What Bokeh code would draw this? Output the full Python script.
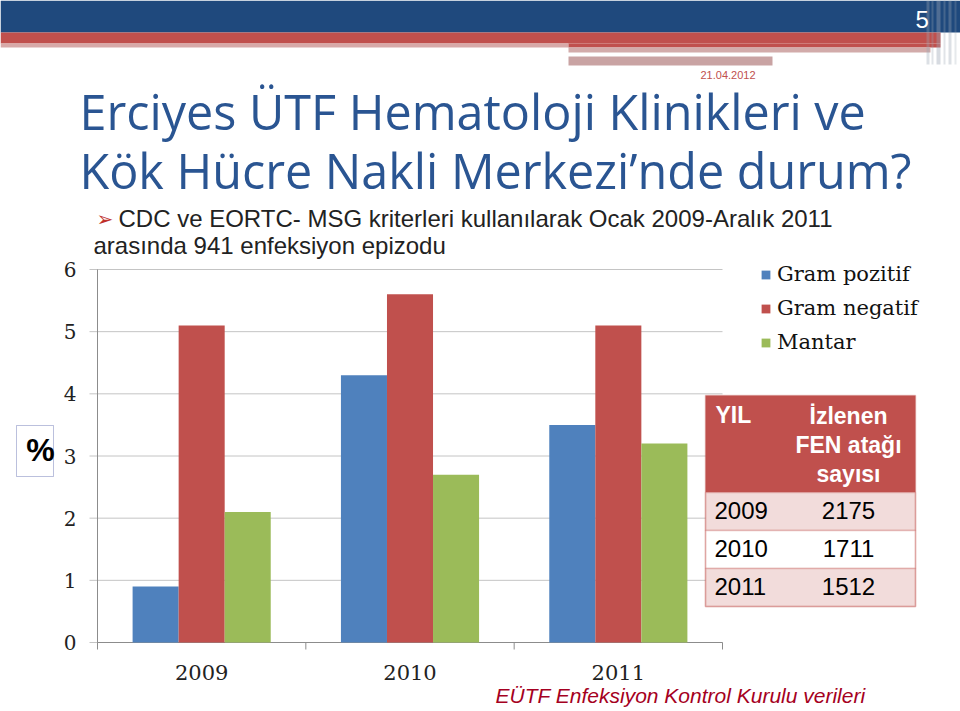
from bokeh.plotting import figure
from bokeh.models import (Range1d, Label, BoxAnnotation, Legend, LegendItem, ColumnDataSource)
from bokeh.core.properties import value
from bokeh.embed import file_html
from bokeh.resources import INLINE

# ---------------- data ----------------
years = ["2009", "2010", "2011"]
series_names = ["Gram pozitif", "Gram negatif", "Mantar"]
gram_pozitif = [0.9, 4.3, 3.5]
gram_negatif = [5.1, 5.6, 5.1]
mantar = [2.1, 2.7, 3.2]
y_ticks = [0, 1, 2, 3, 4, 5, 6]

table_header = ["YIL", "İzlenen", "FEN atağı", "sayısı"]
table_years = ["2009", "2010", "2011"]
table_counts = ["2175", "1711", "1512"]

title_lines = ["Erciyes ÜTF Hematoloji Klinikleri ve", "Kök Hücre Nakli Merkezi’nde durum?"]
bullet_lines = ["CDC ve EORTC- MSG kriterleri kullanılarak Ocak 2009-Aralık 2011",
                "arasında 941 enfeksiyon epizodu"]
footer = "EÜTF  Enfeksiyon Kontrol Kurulu verileri"
date_text = "21.04.2012"
page_no = "5"

# ---------------- layout ----------------
W, H = 960, 711
CL, CR, CT, CB = 97, 722, 269, 642   # chart plot area in page pixels
n_cat = len(years)
y_max = 6

colors = ["#4F81BD", "#C0504D", "#9BBB59"]
grid_c = "#C4C4C4"
axis_c = "#8C8C8C"

# page coordinates: x = pixels from left, y = pixels from top
p = figure(width=W, height=H, output_backend="svg", toolbar_location=None,
           x_range=Range1d(0, W), y_range=Range1d(H, 0),
           min_border=0, min_border_left=0, min_border_right=0,
           min_border_top=0, min_border_bottom=0)
p.outline_line_color = None
p.axis.visible = False
p.grid.visible = False
p.background_fill_color = "white"
p.border_fill_color = "white"

# chart scales mapped onto the chart area of the page
xu = (CR - CL) / n_cat          # pixels per category
yu = (CB - CT) / y_max          # pixels per percent
p.extra_x_ranges = {"cx": Range1d(-CL / xu, n_cat + (W - CR) / xu)}
p.extra_y_ranges = {"cy": Range1d(-(H - CB) / yu, y_max + CT / yu)}

# ---------------- grid & axes ----------------
p.segment(x0=[-8 / xu] * len(y_ticks), x1=[n_cat] * len(y_ticks), y0=y_ticks, y1=y_ticks,
          x_range_name="cx", y_range_name="cy", line_color=grid_c, line_width=1)
p.segment(x0=[0], x1=[0], y0=[0], y1=[y_max], x_range_name="cx", y_range_name="cy",
          line_color=axis_c, line_width=1)
p.segment(x0=[0], x1=[n_cat], y0=[0], y1=[0], x_range_name="cx", y_range_name="cy",
          line_color=axis_c, line_width=1)
bounds = list(range(n_cat + 1))
p.segment(x0=bounds, x1=bounds, y0=[0] * len(bounds), y1=[-7 / yu] * len(bounds),
          x_range_name="cx", y_range_name="cy", line_color=axis_c, line_width=1)
p.text(x=[-21 / xu] * len(y_ticks), y=y_ticks, text=[str(t) for t in y_ticks],
       x_range_name="cx", y_range_name="cy", text_font=value("DejaVu Serif"),
       text_font_size="20px", text_color="#222222", text_align="right",
       text_baseline="middle")
p.text(x=[i + 0.5 for i in range(n_cat)], y=[-30 / yu] * n_cat, text=years,
       x_range_name="cx", y_range_name="cy", text_font=value("DejaVu Serif"),
       text_font_size="21px", text_color="#222222", text_align="center",
       text_baseline="middle")

# ---------------- bars ----------------
bw = 0.221
offsets = [-bw, 0.0, bw]
renderers = []
for vals, col, off in zip([gram_pozitif, gram_negatif, mantar], colors, offsets):
    src = ColumnDataSource(dict(x=[i + 0.5 + off for i in range(n_cat)], top=vals))
    r = p.vbar(x="x", top="top", width=bw, bottom=0, source=src,
               x_range_name="cx", y_range_name="cy",
               fill_color=col, line_color=None)
    renderers.append(r)

# ---------------- legend ----------------
legend = Legend(items=[LegendItem(label=n, renderers=[r]) for n, r in zip(series_names, renderers)],
                location=(760, H - 354), border_line_color=None,
                background_fill_alpha=0, padding=0, margin=0,
                glyph_width=11, glyph_height=11, label_standoff=6, spacing=10,
                label_text_font="DejaVu Serif", label_text_font_size="21px",
                label_text_color="#111111", label_height=24)
p.add_layout(legend, "center")

# ---------------- helpers for page decorations ----------------
def box(l, t, r, b, color, alpha=1.0, line_color=None, line_width=1):
    p.add_layout(BoxAnnotation(left=l, right=r, top=t, bottom=b,
                               fill_color=color, fill_alpha=alpha,
                               line_color=line_color, line_width=line_width,
                               level="overlay"))

def text(cx, base, s, size, color="#000000", font="Liberation Sans", align="left",
         style="normal"):
    # base = wanted baseline (page px from top); Label's alphabetic anchor sits ~0.42em higher
    p.add_layout(Label(x=cx, y=base - 0.42 * size, text=s,
                       text_font=font, text_font_size=f"{size}px", text_color=color,
                       text_align=align, text_baseline="alphabetic", text_font_style=style,
                       level="overlay"))

# header bands
box(0, 0, 960, 32, "#1F497D")
box(0, 32, 940, 43, "#C0504D")
box(0, 43, 568, 47, "#D7A9A8")
box(568, 43, 940, 47, "#C0504D")
box(568, 47, 930, 52, "#D2ABAA")
box(568, 56, 772, 65, "#C9A3A3")
for xl, xr, a in [(926, 929, 0.35), (931, 933, 0.3), (936, 940, 0.4), (943, 945, 0.3),
                  (948, 951, 0.35), (954, 956, 0.25)]:
    box(xl, 0, xr, 64, "#9AA6B4", alpha=a)
text(915, 29, page_no, 24, color="white")
text(700, 79, date_text, 11, color="#C0504D")

# title
text(79, 131, title_lines[0], 48.5, color="#2A5592", font="Open Sans")
text(79, 190, title_lines[1], 48.5, color="#2A5592", font="Open Sans")

# bullet text
text(96, 227, "➢", 20, color="#C0302B", font="DejaVu Sans")
text(118, 228, bullet_lines[0], 24, color="#222222")
text(93, 255, bullet_lines[1], 24, color="#222222")

# % box
box(16, 425, 53, 476, "white", line_color="#1F2F8F", line_width=1)
text(40, 463, "%", 32, font="Liberation Sans", align="center", style="bold")

# table
TL, TR_ = 705, 915
HT, HB = 395, 492
row_h = 38
box(TL, HT, TR_, HB, "#C0504D")
row_fill = ["#F2DCDB", "#FFFFFF", "#F2DCDB"]
for i in range(len(table_years)):
    t = HB + i * row_h
    box(TL, t, TR_, t + row_h, row_fill[i], line_color="#C0504D", line_width=1.5)
box(TL, HT, TR_, HB + 3 * row_h, "white", alpha=0, line_color="#C0504D", line_width=1.5)
text(715, 424, table_header[0], 23, color="white", style="bold")
for k, s in enumerate(table_header[1:]):
    text(848, 425 + 29 * k, s, 23, color="white", align="center", style="bold")
for i, (yv, cv) in enumerate(zip(table_years, table_counts)):
    base = HB + i * row_h + 28
    text(714, base, yv, 24)
    text(848, base, cv, 24, align="center")

# footer
text(495, 704, footer, 21, color="#A50021", style="italic")

open("out.html", "w").write(file_html(p, INLINE))
